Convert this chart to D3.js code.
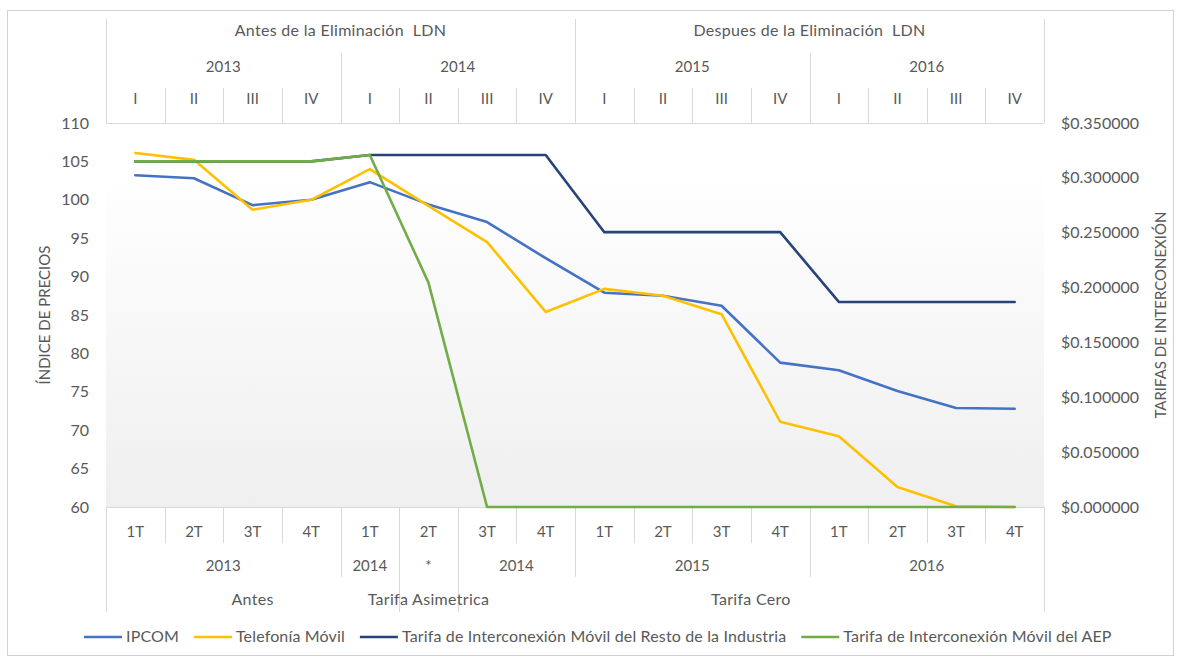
<!DOCTYPE html>
<html>
<head>
<meta charset="utf-8">
<script src="https://cdn.jsdelivr.net/npm/d3@7"></script>
<style>
  html, body { margin: 0; padding: 0; background: #ffffff; }
  svg { display: block; font-family: Lato, "Open Sans", sans-serif; }
</style>
</head>
<body>
<svg id="chart" width="1181" height="660"></svg>
<script>
// ---------------- DATA ----------------
const quarterLabels = ["1T","2T","3T","4T","1T","2T","3T","4T","1T","2T","3T","4T","1T","2T","3T","4T"];
const romanLabels = ["I","II","III","IV","I","II","III","IV","I","II","III","IV","I","II","III","IV"];
const topPeriods = [
  { label: "Antes de la Eliminación  LDN", start: 0, end: 8 },
  { label: "Despues de la Eliminación  LDN", start: 8, end: 16 }
];
const topYears = [
  { label: "2013", start: 0, end: 4 },
  { label: "2014", start: 4, end: 8 },
  { label: "2015", start: 8, end: 12 },
  { label: "2016", start: 12, end: 16 }
];
const bottomYears = [
  { label: "2013", start: 0, end: 4 },
  { label: "2014", start: 4, end: 5 },
  { label: "*", start: 5, end: 6 },
  { label: "2014", start: 6, end: 8 },
  { label: "2015", start: 8, end: 12 },
  { label: "2016", start: 12, end: 16 }
];
const bottomPhases = [
  { label: "Antes", start: 0, end: 5 },
  { label: "Tarifa Asimetrica", start: 5, end: 6 },
  { label: "Tarifa Cero", start: 6, end: 16 }
];

const ipcom = [103.2, 102.8, 99.3, 100.0, 102.3, 99.4, 97.1, 92.4, 87.9, 87.5, 86.2, 78.8, 77.8, 75.1, 72.9, 72.8];
const telefoniaMovil = [106.1, 105.2, 98.7, 100.0, 104.0, 99.2, 94.5, 85.4, 88.4, 87.5, 85.1, 71.1, 69.2, 62.6, 60.1, 60.0];
const tarifaResto = [0.3150, 0.3150, 0.3150, 0.3150, 0.3209, 0.3209, 0.3209, 0.3209, 0.2505, 0.2505, 0.2505, 0.2505, 0.1869, 0.1869, 0.1869, 0.1869];
const tarifaAEP = [0.3150, 0.3150, 0.3150, 0.3150, 0.3209, 0.2045, 0, 0, 0, 0, 0, 0, 0, 0, 0, 0];

const leftTicks = [60, 65, 70, 75, 80, 85, 90, 95, 100, 105, 110];
const rightTicks = [0, 0.05, 0.10, 0.15, 0.20, 0.25, 0.30, 0.35];

const seriesNames = ["IPCOM", "Telefonía Móvil", "Tarifa de Interconexión Móvil del Resto de la Industria", "Tarifa de Interconexión Móvil del AEP"];
const seriesColors = ["#4472C4", "#FFC000", "#264478", "#70AD47"];

// ---------------- LAYOUT ----------------
const svg = d3.select("#chart");
const plotLeft = 106, plotRight = 1044, plotTop = 123, plotBottom = 507;
const textColor = "#595959";
const gridColor = "#d9d9d9";

const idx = d3.range(quarterLabels.length);
const x = d3.scaleBand().domain(idx).range([plotLeft, plotRight]).padding(0);
const xc = i => x(i) + x.bandwidth() / 2;
const xEdge = i => plotLeft + i * x.step();
const yL = d3.scaleLinear().domain([60, 110]).range([plotBottom, plotTop]);
const yR = d3.scaleLinear().domain([0, 0.35]).range([plotBottom, plotTop]);

// outer border
svg.append("rect").attr("x", 7.5).attr("y", 10.5).attr("width", 1166).attr("height", 645)
  .attr("fill", "#fff").attr("stroke", "#d0d0d0").attr("stroke-width", 1);

// plot background gradient
const defs = svg.append("defs");
const grad = defs.append("linearGradient").attr("id", "bg").attr("x1", 0).attr("y1", 0).attr("x2", 0).attr("y2", 1);
grad.append("stop").attr("offset", "0%").attr("stop-color", "#ffffff");
grad.append("stop").attr("offset", "12%").attr("stop-color", "#ffffff");
grad.append("stop").attr("offset", "100%").attr("stop-color", "#efefef");
svg.append("rect").attr("x", plotLeft).attr("y", plotTop).attr("width", plotRight - plotLeft)
  .attr("height", plotBottom - plotTop).attr("fill", "url(#bg)");

const lines = svg.append("g").attr("stroke", gridColor).attr("stroke-width", 1);
function vline(xp, y1, y2) {
  lines.append("line").attr("x1", Math.round(xp) + 0.5).attr("x2", Math.round(xp) + 0.5).attr("y1", y1).attr("y2", y2);
}
// plot top / bottom borders
lines.append("line").attr("x1", plotLeft).attr("x2", plotRight).attr("y1", plotTop + 0.5).attr("y2", plotTop + 0.5);
lines.append("line").attr("x1", plotLeft).attr("x2", plotRight).attr("y1", plotBottom + 0.5).attr("y2", plotBottom + 0.5);

// ---------- top header ----------
const periodEdges = new Set(topPeriods.flatMap(d => [d.start, d.end]));
const yearEdges = new Set(topYears.flatMap(d => [d.start, d.end]));
d3.range(quarterLabels.length + 1).forEach(i => {
  const top = periodEdges.has(i) ? 19 : (yearEdges.has(i) ? 53 : 88);
  vline(xEdge(i), top, plotTop);
});
const hdr = svg.append("g").attr("fill", textColor).attr("text-anchor", "middle").attr("font-size", 15);
hdr.selectAll("text.period").data(topPeriods).join("text")
  .attr("x", d => (xEdge(d.start) + xEdge(d.end)) / 2).attr("y", 36)
  .attr("font-size", 16).attr("letter-spacing", 0.3)
  .attr("xml:space", "preserve").style("white-space", "pre").text(d => d.label);
hdr.selectAll("text.year").data(topYears).join("text")
  .attr("x", d => (xEdge(d.start) + xEdge(d.end)) / 2).attr("y", 72).text(d => d.label);
hdr.selectAll("text.roman").data(idx).join("text")
  .attr("x", i => xc(i)).attr("y", 104).text(i => romanLabels[i]);

// ---------- bottom header ----------
const phaseEdges = new Set(bottomPhases.flatMap(d => [d.start, d.end]));
const byEdges = new Set(bottomYears.flatMap(d => [d.start, d.end]));
d3.range(quarterLabels.length + 1).forEach(i => {
  const bot = phaseEdges.has(i) ? 612 : (byEdges.has(i) ? 577 : 543);
  vline(xEdge(i), plotBottom, bot);
});
const ftr = svg.append("g").attr("fill", textColor).attr("text-anchor", "middle").attr("font-size", 15);
ftr.selectAll("text.q").data(idx).join("text")
  .attr("x", i => xc(i)).attr("y", 537).text(i => quarterLabels[i]);
ftr.selectAll("text.by").data(bottomYears).join("text")
  .attr("x", d => (xEdge(d.start) + xEdge(d.end)) / 2).attr("y", 571).text(d => d.label);
ftr.selectAll("text.ph").data(bottomPhases).join("text")
  .attr("x", d => (xEdge(d.start) + xEdge(d.end)) / 2).attr("y", 605)
  .attr("font-size", 16).attr("letter-spacing", 0.3).text(d => d.label);

// ---------- axes ----------
const leftAxis = d3.axisLeft(yL).tickValues(leftTicks).tickSize(0).tickPadding(0);
const gL = svg.append("g").attr("transform", `translate(${89},0)`).call(leftAxis);
gL.select(".domain").remove();
gL.selectAll("text").attr("fill", textColor).attr("font-size", 16).attr("font-family", "Lato, sans-serif");

const rightAxis = d3.axisRight(yR).tickValues(rightTicks).tickSize(0).tickPadding(0)
  .tickFormat(d => "$" + d3.format(".6f")(d));
const gR = svg.append("g").attr("transform", `translate(${1061},0)`).call(rightAxis);
gR.select(".domain").remove();
gR.selectAll("text").attr("fill", textColor).attr("font-size", 16).attr("font-family", "Lato, sans-serif");

svg.append("text").attr("transform", `translate(50,${315}) rotate(-90)`).attr("text-anchor", "middle")
  .attr("fill", textColor).attr("font-size", 15).text("ÍNDICE DE PRECIOS");
svg.append("text").attr("transform", `translate(1166,${315}) rotate(-90)`).attr("text-anchor", "middle")
  .attr("fill", textColor).attr("font-size", 15).text("TARIFAS DE INTERCONEXIÓN");

// ---------- lines ----------
const lineL = d3.line().x((d, i) => xc(i)).y(d => yL(d));
const lineR = d3.line().x((d, i) => xc(i)).y(d => yR(d));
const seriesData = [
  { values: ipcom, gen: lineL },
  { values: telefoniaMovil, gen: lineL },
  { values: tarifaResto, gen: lineR },
  { values: tarifaAEP, gen: lineR }
];
svg.append("g").selectAll("path").data(seriesData).join("path")
  .attr("d", d => d.gen(d.values))
  .attr("fill", "none")
  .attr("stroke", (d, i) => seriesColors[i])
  .attr("stroke-width", 2.6)
  .attr("stroke-linejoin", "round")
  .attr("stroke-linecap", "round");

// ---------- legend ----------
const leg = svg.append("g").attr("font-size", 16).attr("fill", textColor).attr("letter-spacing", 0.15);
let lx = 84;
const ly = 637;
seriesNames.forEach((name, i) => {
  leg.append("line").attr("x1", lx).attr("x2", lx + 38).attr("y1", ly).attr("y2", ly)
    .attr("stroke", seriesColors[i]).attr("stroke-width", 2.6);
  const t = leg.append("text").attr("x", lx + 42).attr("y", ly + 5).text(name);
  lx += 42 + t.node().getComputedTextLength() + 15;
});
</script>
</body>
</html>
